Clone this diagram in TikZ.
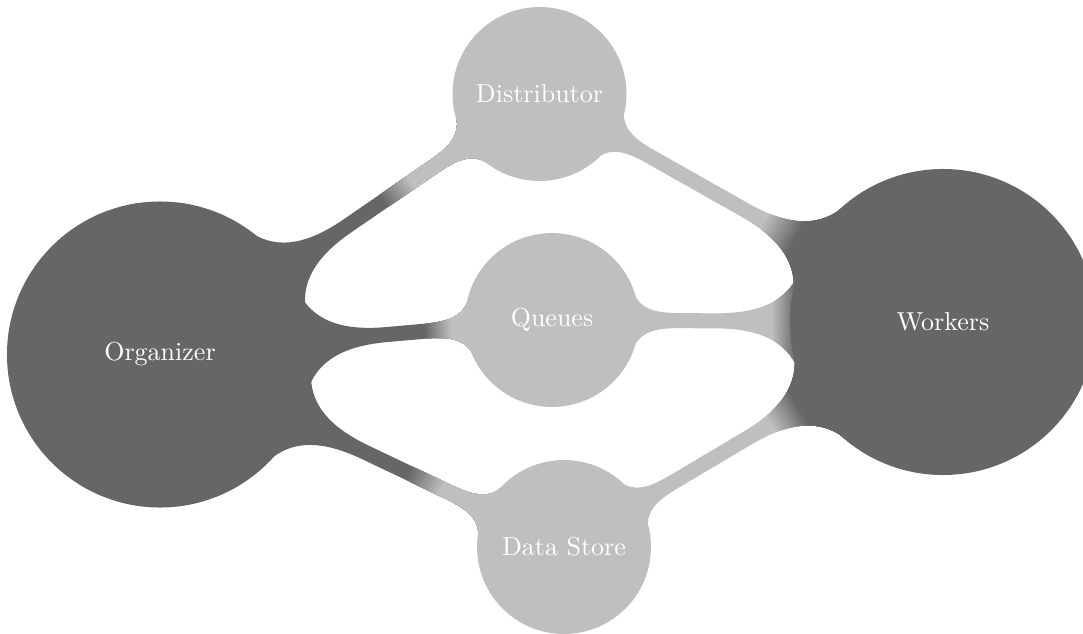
\documentclass[tikz,border=0pt]{standalone}
\usetikzlibrary{mindmap,calc}
\pgfdeclarelayer{background}
\pgfsetlayers{background,main}
\newcommand\gbar[6]{%
  \path[concept color=black!#3] (#1) to[circle connection bar] (#2);
  \foreach \k in {1,...,12}{%
    \pgfmathsetmacro\gpos{#5+(#6-#5)*(\k-0.5)/12}%
    \pgfmathsetmacro\gcol{#3+(#4-#3)*\k/12}%
    \begin{scope}
      \coordinate (gq) at ($(#1)!\gpos!(#2)$);
      \clip ($(gq)!2000pt!(#2)$) circle[radius=2000pt];
      \path[concept color=black!\gcol] (#1) to[circle connection bar] (#2);
    \end{scope}
  }%
}
\begin{document}
\begin{tikzpicture}[x=0.3846pt,y=-0.3846pt,
  conc/.style={circle, fill=#1, draw=#1, line width=0.8pt, text=white, inner sep=0pt, outer sep=0pt},
  bigc/.style={minimum size=116.9pt},
  smallc/.style={minimum size=66.1pt}
]
\useasboundingbox (0,0) rectangle (1083,633);
\node[conc=black!60, bigc] (org) at (160,354.5) {Organizer};
\node[conc=black!60, bigc] (wrk) at (943,322) {Workers};
\node[conc=black!25, smallc] (dist) at (539.5,94) {Distributor};
\node[conc=black!25, smallc] (que) at (552,320) {Queues};
\node[conc=black!25, smallc] (ds) at (564,547) {Data Store};
\begin{pgfonlayer}{background}
\gbar{org}{dist}{60}{25}{0.588}{0.664}
\gbar{org}{que}{60}{25}{0.676}{0.745}
\gbar{org}{ds}{60}{25}{0.619}{0.701}
\gbar{dist}{wrk}{25}{60}{0.559}{0.638}
\gbar{que}{wrk}{25}{60}{0.563}{0.627}
\gbar{ds}{wrk}{25}{60}{0.549}{0.623}
\end{pgfonlayer}
\end{tikzpicture}
\end{document}
